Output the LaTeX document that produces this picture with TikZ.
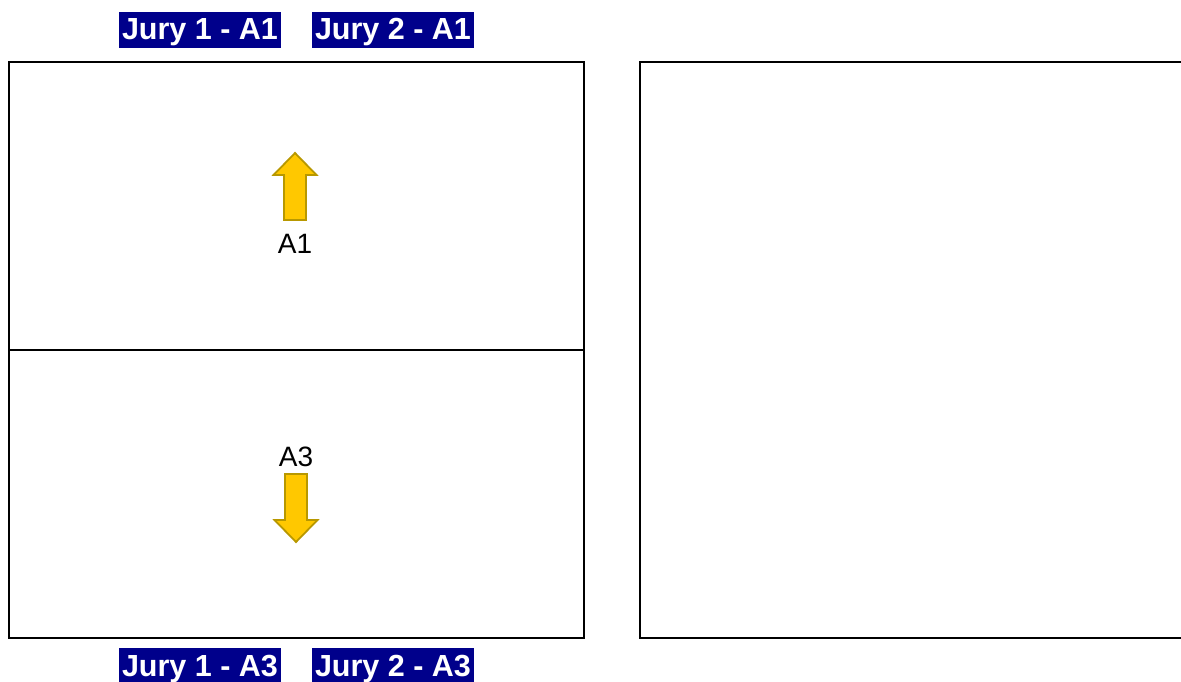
\documentclass[tikz,border=0pt]{standalone}
\usepackage{fontspec}
\setmainfont{Liberation Sans}
\usepackage{tikz}

\definecolor{jurynavy}{HTML}{00008B}
\definecolor{arrowfill}{HTML}{FFC800}
\definecolor{arrowline}{HTML}{B89800}

\tikzset{
  jury/.style={fill=jurynavy, text=white, inner xsep=3pt, inner ysep=0pt,
    text height=26pt, text depth=6pt,
    minimum height=36pt, font=\fontsize{30.5}{32}\selectfont\bfseries},
  room/.style={draw=black, line width=1.6pt},
  side/.style={font=\fontsize{28}{30}\selectfont, inner sep=0pt},
  mover/.style={fill=arrowfill, draw=arrowline, line width=1.8pt, line join=miter}
}

\begin{document}
\begin{tikzpicture}[x=1pt,y=-1pt]
        \useasboundingbox (0,0) rectangle (1181,682);
        % courts
        \coordinate (L1) at (9,62);
        \coordinate (L2) at (584,638);
        \coordinate (R1) at (640,62);
        \coordinate (R2) at (1195,638);
        \draw[room] (L1) rectangle (L2);
        \draw[room] (R1) rectangle (R2);
        \draw[room] (9,350) -- (584,350);

        % juries
        \node[jury] (J1A1) at (200,30) {Jury 1 - A1};
        \node[jury] (J2A1) at (393,30) {Jury 2 - A1};
        \node[jury] (J1A3) at (200,666) {Jury 1 - A3};
        \node[jury] (J2A3) at (393,666) {Jury 2 - A3};

        % A1 goes up
        \begin{scope}[shift={(295,0)}]
        \draw[mover] (-11,220) -- (-11,175) -- (-21.5,175) -- (0,153)
                -- (21.5,175) -- (11,175) -- (11,220) -- cycle;
        \node[side] (A1) at (0,244) {A1};
        \end{scope}

        % A3 goes down
        \begin{scope}[shift={(296,0)}]
        \draw[mover] (-11,474) -- (-11,520) -- (-21.5,520) -- (0,542)
                -- (21.5,520) -- (11,520) -- (11,474) -- cycle;
        \node[side] (A3) at (0,457) {A3};
        \end{scope}
\end{tikzpicture}
\end{document}
